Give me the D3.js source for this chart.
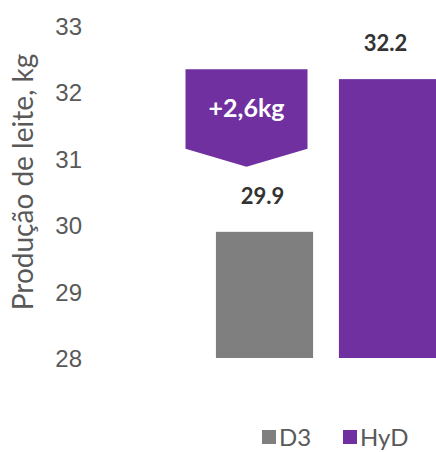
<!DOCTYPE html>
<html>
<head>
<meta charset="utf-8">
<script src="https://cdn.jsdelivr.net/npm/d3@7"></script>
<style>
  body { margin: 0; background: #fff; }
  svg { display: block; font-family: Lato, "Open Sans", sans-serif; }
</style>
</head>
<body>
<script>
var categories = ["D3", "HyD"];
var values = [29.9, 32.2];
var colors = ["#7f7f7f", "#7030a0"];
var yTicks = [28, 29, 30, 31, 32, 33];
var gainLabel = "+2,6kg";
var yTitle = "Produção de leite, kg";

var width = 436, height = 452;

var svg = d3.select("body").append("svg")
    .attr("width", width)
    .attr("height", height);

var x = d3.scaleBand()
    .domain(categories)
    .range([203, 449])
    .paddingInner(0.21)
    .paddingOuter(0.105);

var y = d3.scaleLinear()
    .domain([28, 33])
    .range([358, 26]);

var yAxis = d3.axisLeft(y)
    .tickValues(yTicks)
    .tickSize(0)
    .tickPadding(0)
    .tickFormat(d3.format("d"));

svg.append("g")
    .attr("class", "y axis")
    .attr("transform", "translate(82,0)")
    .call(yAxis)
    .call(g => g.select(".domain").remove())
    .selectAll("text")
      .attr("fill", "#595959")
      .style("font-size", "24px")
      .attr("dy", "0.35em");

svg.append("text")
    .attr("transform", "translate(33,182) rotate(-90)")
    .attr("text-anchor", "middle")
    .attr("fill", "#595959")
    .style("font-size", "28px")
    .text(yTitle);

// bars
svg.selectAll(".bar")
    .data(categories)
  .enter().append("rect")
    .attr("class", "bar")
    .attr("x", d => x(d))
    .attr("width", x.bandwidth())
    .attr("y", (d, i) => y(values[i]))
    .attr("height", (d, i) => y(28) - y(values[i]))
    .attr("fill", (d, i) => colors[i]);

// value labels
svg.selectAll(".val")
    .data(categories)
  .enter().append("text")
    .attr("class", "val")
    .attr("x", d => x(d) + x.bandwidth() / 2 - 2)
    .attr("y", (d, i) => y(values[i]) - 28)
    .attr("text-anchor", "middle")
    .attr("fill", "#333")
    .style("font-size", "22px")
    .style("font-weight", "bold")
    .text((d, i) => values[i].toFixed(1));

// gain badge above the D3 bar
var bx = x("D3") + x.bandwidth() / 2 - 18;
var bTop = y(32.35), bSide = y(31.15), bTip = y(30.88);
var bw = 61;
svg.append("path")
    .attr("d", "M" + (bx - bw) + "," + bTop +
               "L" + (bx + bw) + "," + bTop +
               "L" + (bx + bw) + "," + bSide +
               "L" + bx + "," + bTip +
               "L" + (bx - bw) + "," + bSide + "Z")
    .attr("fill", colors[1]);

svg.append("text")
    .attr("x", bx)
    .attr("y", (bTop + bSide) / 2 + 8)
    .attr("text-anchor", "middle")
    .attr("fill", "#fff")
    .style("font-size", "25px")
    .style("font-weight", "bold")
    .text(gainLabel);

// legend
var legend = svg.append("g")
    .attr("transform", "translate(262,437)");
var lx = [0, 81];
categories.forEach(function(c, i) {
  legend.append("rect")
      .attr("x", lx[i])
      .attr("y", -7)
      .attr("width", 14)
      .attr("height", 14)
      .attr("fill", colors[i]);
  legend.append("text")
      .attr("x", lx[i] + 17)
      .attr("y", 0)
      .attr("dy", "0.36em")
      .attr("fill", "#595959")
      .style("font-size", "24px")
      .text(c);
});
</script>
</body>
</html>
